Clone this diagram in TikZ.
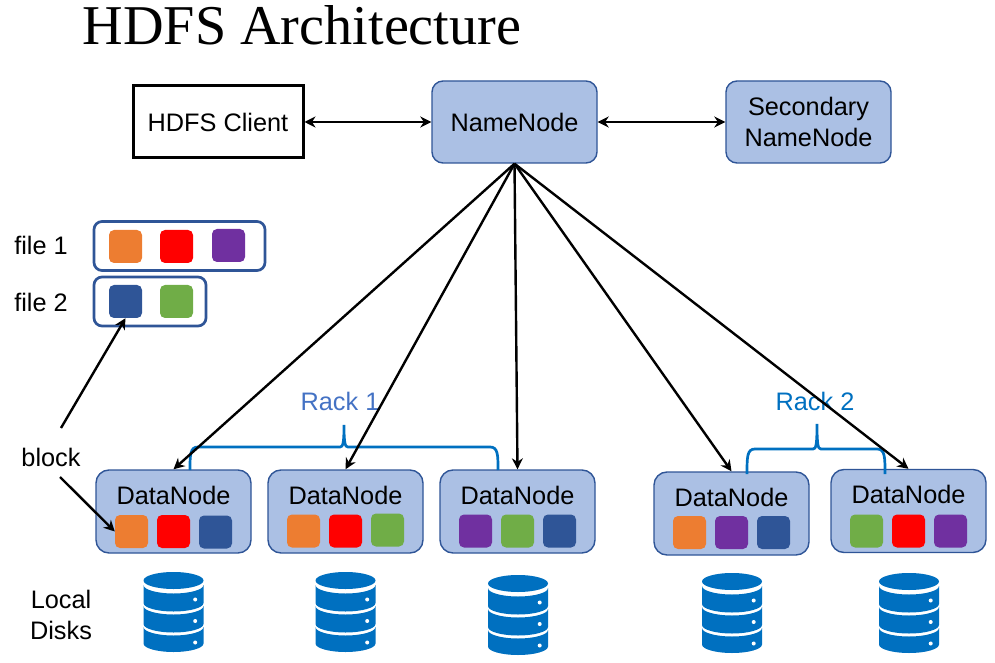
\documentclass[tikz,border=0pt]{standalone}
\usepackage{fontspec}
\setmainfont{Liberation Sans}
\newfontfamily\titlefont{Liberation Serif}
\usetikzlibrary{arrows.meta}
\definecolor{nodefill}{HTML}{ABC0E4}
\definecolor{nodeline}{HTML}{2F5597}
\definecolor{diskblue}{HTML}{0070C0}
\definecolor{rackone}{HTML}{4472C4}
\definecolor{blockorange}{HTML}{ED7D31}
\definecolor{blockred}{HTML}{FF0000}
\definecolor{blockpurple}{HTML}{7030A0}
\definecolor{blockblue}{HTML}{2F5597}
\definecolor{blockgreen}{HTML}{70AD47}
\tikzset{
  disk/.pic={
    \fill[diskblue] (0,72.5) ellipse[x radius=30,y radius=8.5];
    \foreach \t/\b in {68/50,47/29,26/9.5}{
      \fill[diskblue] (-30,\t) arc[start angle=180,end angle=360,x radius=30,y radius=8.5]
        -- (30,\b) arc[start angle=360,end angle=180,x radius=30,y radius=8.5] -- cycle;
    }
    \foreach \y in {53.5,32,10.5}{
      \fill[white] (21.7,\y) circle[radius=2];
    }
  }
}
\begin{document}
\begin{tikzpicture}[x=1pt,y=1pt,>={Stealth[length=11pt,width=11pt]},
  every node/.style={font=\fontsize{25.3}{31}\selectfont,inner sep=0pt},
  namebox/.style={draw=nodeline,line width=1.4pt,fill=nodefill,rounded corners=11pt,minimum width=165pt,minimum height=82pt,align=center},
  datanode/.style={draw=nodeline,line width=1.4pt,fill=nodefill,rounded corners=13pt,minimum width=155pt,minimum height=83pt},
  filebox/.style={draw=nodeline,line width=2.7pt,rounded corners=8pt,minimum height=49pt},
  blockbox/.style={rounded corners=5pt,minimum width=33pt,minimum height=33pt},
  link/.style={line width=2.4pt,black},
  rack/.style={line width=2.7pt,diskblue}]
\useasboundingbox (0,0) rectangle (995,662);
\node[font=\titlefont\fontsize{56.2}{60}\selectfont] (title) at (302,637) {HDFS Architecture};
\node[draw,line width=3pt,minimum width=170pt,minimum height=72pt] (client) at (218,540) {HDFS Client};
\node[namebox] (name) at (514.5,540) {NameNode};
\node[namebox] (second) at (808.5,540) {Secondary\\NameNode};
\node (filea) at (41,417) {file 1};
\node (fileb) at (41,360) {file 2};
\node[filebox,minimum width=171pt] (fileboxa) at (179.5,416) {};
\node[filebox,minimum width=112pt] (fileboxb) at (150,360.5) {};
\node[align=center] (disks) at (61,47) {Local\\Disks};
\node (blocklabel) at (51,205) {block};
\coordinate (blockup) at (61,234);
\coordinate (blockdown) at (60,185);
\foreach \name/\x/\y in {
  dna/173.5/150.5,
  dnb/345.5/150.5,
  dnc/517.5/150.5,
  dnd/731.5/148.5,
  dne/908.5/151%
}{
  \node[datanode] (\name) at (\x,\y) {};
  \node at (\x,\y+16.5) {DataNode};
}
\foreach \name/\x/\y/\col in {
  fa1/125.5/415.5/blockorange,
  fa2/176.5/415.5/blockred,
  fa3/228.5/416.5/blockpurple,
  fb1/125.5/360.5/blockblue,
  fb2/176.5/360.5/blockgreen,
  da1/131.5/130.5/blockorange,
  da2/173.5/130.5/blockred,
  da3/215.5/130/blockblue,
  db1/303.5/131/blockorange,
  db2/345.5/131/blockred,
  db3/387.5/132/blockgreen,
  dc1/475.5/131/blockpurple,
  dc2/517.5/131/blockgreen,
  dc3/559.5/131/blockblue,
  dd1/689.5/129.5/blockorange,
  dd2/731.5/129.5/blockpurple,
  dd3/773.5/129.5/blockblue,
  de1/866.5/131/blockgreen,
  de2/908.5/131/blockred,
  de3/950.5/131/blockpurple%
}{
  \node[blockbox,fill=\col] (\name) at (\x,\y) {};
}
\foreach \x/\y in {173.5/9,345.5/9,518/6,732/8,909/8}{
  \pic at (\x,\y) {disk};
}
\node[text=rackone] (rackalabel) at (340,261) {Rack 1};
\node[text=diskblue] (rackblabel) at (815,261) {Rack 2};
\foreach \l/\m/\r/\b/\h/\t in {190/344/498/192/215/237,747/817/885/188/213/238}{
  \draw[rack] (\l,\b) .. controls (\l,\h-8) and (\l,\h) .. (\l+8,\h) -- (\m-4,\h)
    .. controls (\m-1,\h) and (\m,\h+4) .. (\m,\t)
    .. controls (\m,\h+4) and (\m+1,\h) .. (\m+4,\h) -- (\r-8,\h)
    .. controls (\r,\h) and (\r,\h-8) .. (\r,\b);
}
\draw[link,<->] (client) -- (name);
\draw[link,<->] (name) -- (second);
\foreach \name in {dna,dnb,dnc,dnd,dne}{
  \draw[link,->] (name.south) -- (\name.north);
}
\draw[link,->] (blockup) -- (fb1.south);
\draw[link,->] (blockdown) -- (da1.west);
\end{tikzpicture}
\end{document}
